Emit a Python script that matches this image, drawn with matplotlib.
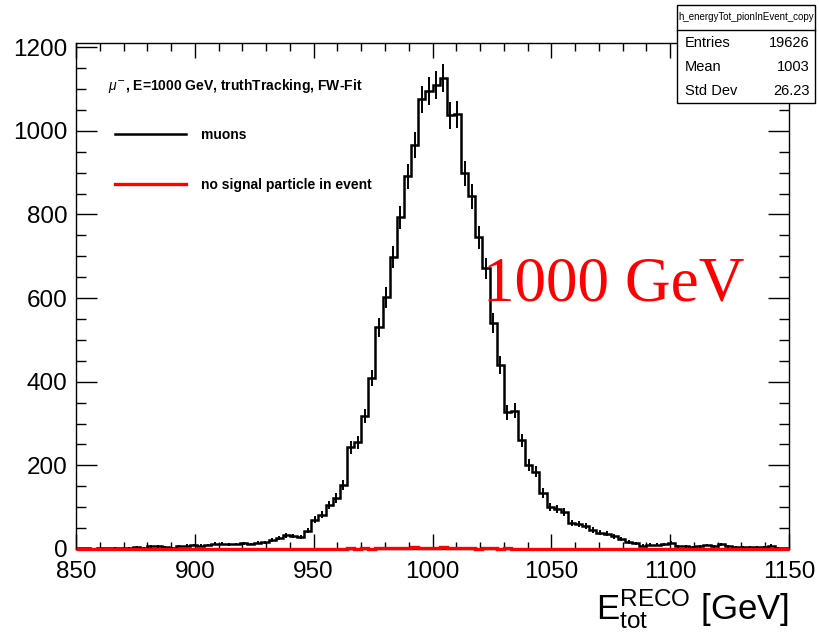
import numpy as np
import matplotlib
matplotlib.use("Agg")
import matplotlib.pyplot as plt
from matplotlib.ticker import MultipleLocator
from matplotlib.patches import Rectangle

plt.rcParams['font.family'] = ['Liberation Sans', 'DejaVu Sans']
plt.rcParams['mathtext.fontset'] = 'custom'
plt.rcParams['mathtext.rm'] = 'Liberation Sans'
plt.rcParams['mathtext.it'] = 'Liberation Sans:italic'
plt.rcParams['mathtext.bf'] = 'Liberation Sans:bold'

# histogram: 100 bins of 3 GeV from 850 to 1150
x_min, x_max, n_bins = 850, 1150, 100
edges = np.linspace(x_min, x_max, n_bins + 1)

# muons (bin by bin)
muons = [2, 2, 1, 2, 2, 3, 2, 3, 4, 3,
         6, 6, 4, 3, 7, 8, 9, 8, 9, 13,
         13, 11, 12, 14, 12, 15, 16, 21, 26, 33,
         31, 29, 44, 70, 82, 105, 122, 153, 243, 255,
         318, 409, 530, 602, 698, 793, 891, 965, 1075, 1095,
         1110, 1127, 1037, 1040, 898, 843, 745, 671, 540, 440,
         327, 331, 260, 200, 185, 134, 100, 95, 88, 62,
         60, 55, 45, 39, 37, 30, 24, 17, 14, 8,
         10, 10, 11, 15, 6, 6, 5, 6, 9, 6,
         11, 6, 5, 4, 4, 4, 5, 8, 3, 2]

# events without the signal particle
no_signal = [0, 0, 0, 0, 0, 0, 0, 0, 0, 0,
             0, 0, 0, 0, 0, 0, 0, 0, 0, 0,
             0, 0, 0, 0, 0, 0, 0, 0, 0, 0,
             0, 0, 0, 0, 0, 1, 0, 1, 2, 1,
             2, 1, 2, 3, 2, 2, 3, 4, 3, 2,
             3, 4, 2, 3, 2, 3, 1, 2, 2, 1,
             2, 1, 1, 0, 1, 0, 1, 0, 0, 0,
             0, 0, 0, 0, 0, 0, 0, 0, 0, 0,
             0, 0, 0, 0, 0, 0, 0, 0, 0, 0,
             0, 0, 0, 0, 0, 0, 0, 0, 0, 0]

stats_title = "h_energyTot_pionInEvent_copy"
stats_names = ["Entries", "Mean", "Std Dev"]
stats_values = ["19626", "1003", "26.23"]

muons = np.array(muons, dtype=float)
no_signal = np.array(no_signal, dtype=float)
centers = 0.5 * (edges[:-1] + edges[1:])

fig = plt.figure(figsize=(8.2, 6.36), dpi=100)
ax = fig.add_axes([0.0927, 0.1368, 0.8695, 0.7956])

ax.stairs(muons, edges, color='black', lw=1.8, label='muons')
ax.errorbar(centers, muons, yerr=np.sqrt(muons), fmt='none', ecolor='black', elinewidth=1.4)
ax.stairs(no_signal, edges, color='red', lw=2.4, label='no signal particle in event',
          clip_on=False, zorder=4)

ax.set_xlim(x_min, x_max)
ax.set_ylim(0, 1210)
ax.xaxis.set_major_locator(MultipleLocator(50))
ax.xaxis.set_minor_locator(MultipleLocator(10))
ax.yaxis.set_major_locator(MultipleLocator(200))
ax.yaxis.set_minor_locator(MultipleLocator(50))
ax.tick_params(axis='both', which='both', direction='in', top=True, right=True, width=1)
ax.tick_params(axis='x', which='major', length=10.8, labelsize=17.5, pad=8.5)
ax.tick_params(axis='x', which='minor', length=5.4)
ax.tick_params(axis='y', which='major', length=15, labelsize=17.5, pad=6)
ax.tick_params(axis='y', which='minor', length=7.5)
for s in ax.spines.values():
    s.set_linewidth(1)

ax.set_xlabel(r'$\mathrm{E}_{\mathrm{tot}}^{\mathrm{RECO}}$ [GeV]', fontsize=25, loc='right', labelpad=3)

ax.text(0.045, 0.915, r'$\mu^{\mathsf{-}}$, E=1000 GeV, truthTracking, FW-Fit',
        transform=ax.transAxes, fontsize=10, fontweight='bold', va='center', ha='left')

ax.legend(loc='upper left', bbox_to_anchor=(0.0547, 0.832), frameon=False,
          borderaxespad=0, borderpad=0, handlelength=5.1, handletextpad=1.1,
          labelspacing=2.6, prop={'weight': 'bold', 'size': 10})

ax.text(0.571, 0.492, '1000 GeV', transform=ax.transAxes, color='red',
        fontsize=45.5, family='Liberation Serif', va='baseline', ha='left')

# stats box
bx0, bx1 = 677 / 820, 815 / 820
by0, by1, bsep = 1 - 103 / 636, 1 - 5 / 636, 1 - 30 / 636
fig.patches.append(Rectangle((bx0, by0), bx1 - bx0, by1 - by0, transform=fig.transFigure,
                             facecolor='white', edgecolor='black', lw=1, zorder=5))
fig.lines.append(plt.Line2D([bx0, bx1], [bsep, bsep], transform=fig.transFigure,
                            color='black', lw=1, zorder=6))
fig.text((bx0 + bx1) / 2, (bsep + by1) / 2, stats_title, fontsize=7,
         ha='center', va='center', zorder=7)
row_y = [1 - 43 / 636, 1 - 67 / 636, 1 - 91 / 636]
for name, val, yy in zip(stats_names, stats_values, row_y):
    fig.text(685 / 820, yy, name, fontsize=10.5, ha='left', va='center', zorder=7)
    fig.text(810 / 820, yy, val, fontsize=10.5, ha='right', va='center', zorder=7)

fig.savefig('out.png', dpi=100)
